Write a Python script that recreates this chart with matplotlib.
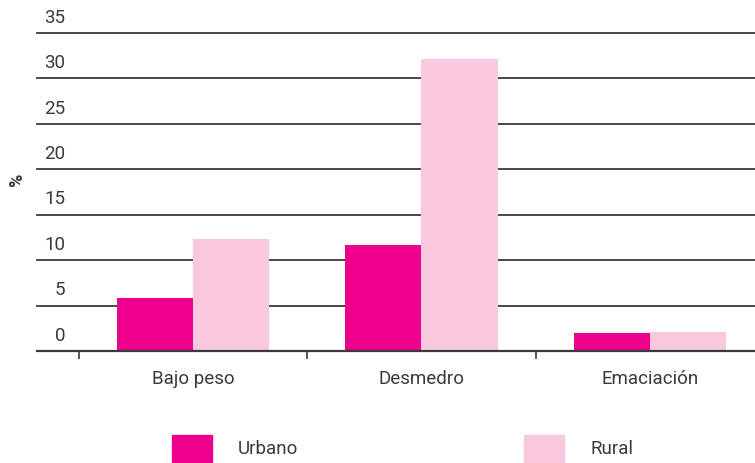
import matplotlib
matplotlib.use('Agg')
import matplotlib.pyplot as plt
import matplotlib.transforms as mtransforms
import numpy as np
from matplotlib.patches import Rectangle

plt.rcParams['font.family'] = ['Roboto', 'DejaVu Sans']

# Data
categories = ['Bajo peso', 'Desmedro', 'Emaciación']
urbano = [5.8, 11.7, 2.0]
rural = [12.3, 32.1, 2.1]
series_names = ['Urbano', 'Rural']
yticks = [0, 5, 10, 15, 20, 25, 30, 35]

c_urb = '#EC008C'
c_rur = '#F8C9DE'
c_line = '#3a3a3a'
c_text = '#3a3a3a'

fig = plt.figure(figsize=(7.55, 4.64), dpi=100)
ax = fig.add_axes([37 / 755, (464 - 352) / 464, 1 - 37 / 755, (352 - 34) / 464])

x = np.arange(len(categories))
w = 0.333
ax.bar(x - w / 2, urbano, w, color=c_urb, zorder=3)
ax.bar(x + w / 2, rural, w, color=c_rur, zorder=3)

ax.set_xlim(-0.683, 2.46)
ax.set_ylim(0, 35)

lab_tr = mtransforms.blended_transform_factory(fig.transFigure, ax.transData)
for t in yticks:
    if t > 0:
        ax.axhline(t, color=c_line, lw=1.3, zorder=1, clip_on=False)
    ax.text(65 / 755, t + 0.8, str(t), transform=lab_tr,
            ha='right', va='bottom', fontsize=13.5, color=c_text)

for s in ['top', 'right', 'left']:
    ax.spines[s].set_visible(False)
ax.spines['bottom'].set_color(c_line)
ax.spines['bottom'].set_linewidth(1.6)
ax.spines['bottom'].set_zorder(4)

ax.set_yticks([])
ax.set_xticks([-0.5, 0.5, 1.5])
ax.set_xticklabels([])
ax.tick_params(axis='x', length=6, width=1.2, color=c_line)
for xi, cat in zip(x, categories):
    ax.text(xi, -2.0, cat, ha='center', va='top', fontsize=13.5, color=c_text)

fig.text(17 / 755, 1 - 180 / 464, '%', rotation=90, ha='center', va='center',
         fontsize=13, fontweight='bold', color=c_text)

# legend
leg_x = [172, 524]
for lx, name, col in zip(leg_x, series_names, [c_urb, c_rur]):
    fig.patches.append(Rectangle((lx / 755, 1 - 463 / 464), 40 / 755, 27 / 464,
                                 transform=fig.transFigure, color=col))
    fig.text((lx + 66) / 755, 1 - 449 / 464, name, ha='left', va='center',
             fontsize=13.5, color=c_text)

fig.savefig('out.png', dpi=100)
